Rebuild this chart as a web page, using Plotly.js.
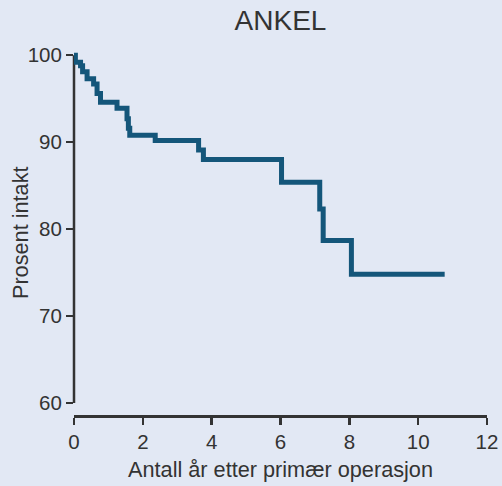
<!DOCTYPE html>
<html>
<head>
<meta charset="utf-8">
<script src="https://cdn.plot.ly/plotly-3.0.1.min.js"></script>
<style>html,body{margin:0;padding:0;background:#e2e8f4;}#chart{width:502px;height:486px;}</style>
</head>
<body>
<div id="chart"></div>
<script>
// Kaplan-Meier step data
const years = [0, 0.04, 0.19, 0.25, 0.38, 0.57, 0.67, 0.77, 1.25, 1.54, 1.58, 1.62, 2.36, 3.62, 3.76, 6.03, 7.14, 7.24, 8.06, 10.77];
const survival = [100, 99.2, 98.8, 98.1, 97.3, 96.7, 95.6, 94.6, 93.9, 92.7, 91.6, 90.8, 90.2, 89.1, 88.0, 85.4, 82.3, 78.7, 74.8, 74.8];
const xTicks = [0, 2, 4, 6, 8, 10, 12];
const yTicks = [60, 70, 80, 90, 100];
const titleText = 'ANKEL';
const xTitle = 'Antall år etter primær operasjon';
const yTitle = 'Prosent intakt';

const bg = '#e2e8f4';
const ink = '#333333';
const font = 'Liberation Sans, Arial, Helvetica, sans-serif';

const trace = {
  x: years, y: survival, type: 'scatter', mode: 'lines',
  line: {shape: 'hv', color: '#14567a', width: 5},
  hoverinfo: 'skip'
};

const layout = {
  width: 502, height: 486,
  paper_bgcolor: bg, plot_bgcolor: bg,
  margin: {l: 73.5, r: 15, t: 50, b: 71},
  showlegend: false,
  font: {family: font, color: ink, size: 20},
  title: {text: titleText, font: {family: font, size: 28, color: ink}, xref: 'paper', x: 0.5, xanchor: 'center', y: 0.978, yanchor: 'top'},
  xaxis: {
    range: [0, 12], tickvals: xTicks, ticktext: xTicks.map(String),
    showgrid: false, zeroline: false, showline: true, linecolor: ink, linewidth: 2.5,
    ticks: 'outside', ticklen: 7, tickwidth: 2.5, tickcolor: ink,
    tickfont: {family: font, size: 20.5, color: ink},
    title: {text: xTitle, font: {family: font, size: 21.7, color: ink}, standoff: 10}
  },
  yaxis: {
    range: [58.62, 100.6], tickvals: yTicks, ticktext: yTicks.map(String),
    showgrid: false, zeroline: false, showline: false,
    ticks: 'outside', ticklen: 7, tickwidth: 2.5, tickcolor: ink,
    tickfont: {family: font, size: 20.5, color: ink},
    title: {text: '', font: {family: font, size: 21.7, color: ink}}
  },
  annotations: [{
    text: yTitle, xref: 'paper', yref: 'paper', x: -73.5 / 413.5 + 20 / 413.5, y: 0.5,
    xanchor: 'center', yanchor: 'middle', textangle: -90, showarrow: false,
    font: {family: font, size: 21.7, color: ink}
  }],
  shapes: [{
    type: 'line', xref: 'paper', yref: 'y', x0: 0, x1: 0, y0: yTicks[0], y1: yTicks[yTicks.length - 1],
    line: {color: ink, width: 2.5}, layer: 'below'
  }]
};

Plotly.newPlot('chart', [trace], layout, {displayModeBar: false, staticPlot: true});
</script>
</body>
</html>
